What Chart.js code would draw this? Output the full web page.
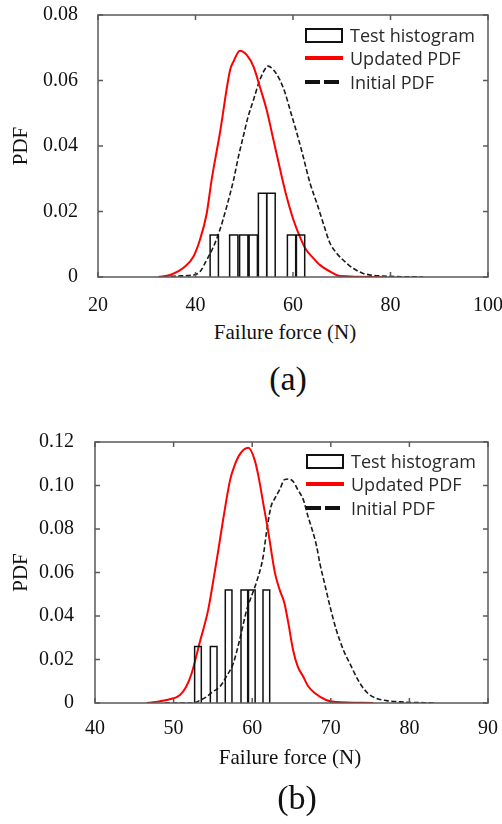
<!DOCTYPE html>
<html>
<head>
<meta charset="utf-8">
<script src="https://cdn.jsdelivr.net/npm/chart.js@4.4.1/dist/chart.umd.min.js"></script>
<style>
  body { margin: 0; background: #fff; }
  #wrap { position: relative; width: 502px; height: 824px; overflow: hidden; }
  canvas { position: absolute; left: 0; }
  .lg { position: absolute; height: 20px; display: flex; align-items: center; font-family: "Open Sans", Lato, sans-serif; font-size: 18px; color: #2a2a2a; white-space: nowrap; }
  .sw { width: 38px; margin-right: 7px; display: flex; align-items: center; }
  .box { box-sizing: border-box; width: 38px; height: 15px; border: 2px solid #111; }
  .red { width: 38px; height: 4px; background: #ff0000; }
  .dash { width: 17px; height: 4px; background: #111; margin-right: 4px; }
  .cap { position: absolute; font-family: "Liberation Serif", "Times New Roman", serif; color: #111; white-space: nowrap; transform: translateX(-50%); }
</style>
</head>
<body>
<div id="wrap">
  <canvas id="chartA" width="502" height="320" style="top:0;width:502px;height:320px"></canvas>
  <canvas id="chartB" width="502" height="340" style="top:410px;width:502px;height:340px"></canvas>

  <div class="lg" style="left:305px;top:25px"><span class="sw"><span class="box"></span></span>Test histogram</div>
  <div class="lg" style="left:305px;top:48px"><span class="sw"><span class="red"></span></span>Updated PDF</div>
  <div class="lg" style="left:305px;top:72px"><span class="sw"><span class="dash"></span><span class="dash"></span></span>Initial PDF</div>
  <div class="cap" style="left:285px;top:320px;font-size:21px;line-height:24px">Failure force (N)</div>
  <div class="cap" style="left:288px;top:359px;font-size:34px;line-height:40px">(a)</div>

  <div class="lg" style="left:306px;top:451px"><span class="sw"><span class="box"></span></span>Test histogram</div>
  <div class="lg" style="left:306px;top:474px"><span class="sw"><span class="red"></span></span>Updated PDF</div>
  <div class="lg" style="left:306px;top:498px"><span class="sw"><span class="dash"></span><span class="dash"></span></span>Initial PDF</div>
  <div class="cap" style="left:290px;top:745px;font-size:21px;line-height:24px">Failure force (N)</div>
  <div class="cap" style="left:297px;top:778px;font-size:34px;line-height:40px">(b)</div>
</div>
<script>
// (a) failure force test set
const histCentersA = [43.85, 47.85, 49.9, 51.85, 53.75, 55.5, 59.7, 61.55];
const histHeightsA = [0.0128, 0.0128, 0.0128, 0.0128, 0.0256, 0.0256, 0.0128, 0.0128];
const histWidthA = 1.7;
const updForceA = [32.4, 34.8, 37.85, 39.56, 40.9, 42.3, 43.3, 45.0, 47.1, 47.8, 49.1, 50.5, 51.9, 53.2, 54.6, 56.0, 57.7, 58.7, 60.1, 61.4, 62.5, 64.2, 65.5, 68.3, 69.6, 78.2];
const updPdfA = [0, 0.0006, 0.0032, 0.0062, 0.0113, 0.0194, 0.0296, 0.0439, 0.0632, 0.0658, 0.0691, 0.0678, 0.0642, 0.0581, 0.051, 0.0418, 0.0306, 0.0245, 0.0174, 0.0123, 0.0088, 0.0057, 0.0037, 0.0011, 0.0003, 0];
const iniForceA = [33.4, 36.1, 39.6, 40.9, 42.3, 43.7, 45.0, 46.4, 47.8, 48.8, 49.8, 50.8, 51.9, 53.2, 54.6, 54.9, 56.0, 57.3, 58.4, 59.4, 60.8, 62.1, 63.5, 64.9, 66.2, 67.6, 69.0, 71.0, 72.4, 74.4, 78.5, 86.7];
const iniPdfA = [0, 0.0003, 0.0006, 0.0016, 0.0052, 0.0093, 0.0144, 0.0215, 0.0296, 0.0367, 0.0429, 0.049, 0.0541, 0.0602, 0.0642, 0.0644, 0.0632, 0.0602, 0.0561, 0.051, 0.0439, 0.0367, 0.0286, 0.0225, 0.0164, 0.0103, 0.0072, 0.0042, 0.0026, 0.0011, 0.0003, 0];
const xTicksA = { min: 20, max: 100, step: 20 };
const yTicksA = { min: 0, max: 0.08, step: 0.02 };

// (b)
const histCentersB = [53.1, 55.1, 57.0, 59.0, 59.95, 61.8];
const histHeightsB = [0.026, 0.026, 0.052, 0.052, 0.052, 0.052];
const histWidthB = 0.85;
const updForceB = [46.6, 49.1, 50.8, 51.6, 52.3, 53.3, 54.4, 55.0, 55.7, 56.3, 57.2, 57.8, 58.4, 59.5, 60.3, 60.8, 61.4, 62.0, 62.9, 63.5, 64.1, 64.6, 65.2, 65.8, 66.5, 67.1, 68.0, 69.4, 70.7, 75.4];
const updPdfB = [0, 0.0014, 0.0037, 0.0075, 0.0137, 0.0275, 0.0428, 0.0551, 0.0705, 0.0843, 0.1027, 0.1096, 0.1142, 0.1173, 0.1119, 0.1042, 0.0919, 0.0797, 0.0597, 0.052, 0.0459, 0.0367, 0.0244, 0.0167, 0.0121, 0.0078, 0.0045, 0.0014, 0.0005, 0];
const iniForceB = [48.9, 52.5, 53.3, 54.2, 55.0, 55.9, 56.7, 57.6, 58.4, 59.3, 59.9, 60.5, 61.4, 61.8, 62.4, 62.9, 63.5, 64.1, 64.6, 65.2, 65.8, 66.5, 67.1, 67.5, 68.2, 68.6, 69.2, 69.9, 70.7, 71.6, 72.4, 73.7, 74.7, 75.8, 77.1, 78.8, 83.4];
const iniPdfB = [0, 0, 0.0011, 0.0029, 0.0052, 0.0075, 0.0121, 0.0183, 0.029, 0.0428, 0.049, 0.0551, 0.0674, 0.0781, 0.0904, 0.0942, 0.0981, 0.1027, 0.103, 0.1019, 0.0981, 0.0935, 0.0858, 0.0812, 0.072, 0.0643, 0.0551, 0.0444, 0.0336, 0.0244, 0.0183, 0.0091, 0.0045, 0.0021, 0.0011, 0.0005, 0];
const xTicksB = { min: 40, max: 90, step: 10 };
const yTicksB = { min: 0, max: 0.12, step: 0.02 };

const serif = "'Liberation Serif', 'Times New Roman', serif";

function pairs(xs, ys){ return xs.map((x,i)=>({x:x, y:ys[i]})); }

// open rectangles for each bin, broken apart with a null point
function histOutline(centers, heights, w){
  const pts = [];
  centers.forEach((c,i)=>{
    const a = c - w/2, b = c + w/2;
    pts.push({x:a,y:0},{x:a,y:heights[i]},{x:b,y:heights[i]},{x:b,y:0},{x:b,y:null});
  });
  return pts;
}

// box around the plot with inward tick marks on all four sides
const framePlugin = {
  id: 'frame',
  afterDatasetsDraw(chart){
    const {ctx, chartArea:a, scales:{x, y}} = chart;
    const tl = 5;
    ctx.save();
    ctx.strokeStyle = '#5a5a5a'; ctx.lineWidth = 1.5;
    ctx.strokeRect(a.left, a.top, a.right-a.left, a.bottom-a.top);
    ctx.beginPath();
    x.ticks.forEach(t=>{ const px = x.getPixelForValue(t.value);
      ctx.moveTo(px, a.bottom); ctx.lineTo(px, a.bottom-tl);
      ctx.moveTo(px, a.top); ctx.lineTo(px, a.top+tl); });
    y.ticks.forEach(t=>{ const py = y.getPixelForValue(t.value);
      ctx.moveTo(a.left, py); ctx.lineTo(a.left+tl, py);
      ctx.moveTo(a.right, py); ctx.lineTo(a.right-tl, py); });
    ctx.stroke();
    ctx.restore();
  }
};

function makeChart(id, d){
  return new Chart(document.getElementById(id), {
    type: 'line',
    data: { datasets: [
      { label: 'Test histogram', data: histOutline(d.hc, d.hh, d.hw), borderColor: '#111', borderWidth: 1.5, tension: 0, spanGaps: false, pointRadius: 0, fill: false },
      { label: 'Updated PDF', data: pairs(d.ux, d.uy), borderColor: '#ff0000', borderWidth: 2, cubicInterpolationMode: 'monotone', pointRadius: 0, fill: false },
      { label: 'Initial PDF', data: pairs(d.ix, d.iy), borderColor: '#1a1a1a', borderWidth: 1.6, borderDash: [5,2.5], cubicInterpolationMode: 'monotone', pointRadius: 0, fill: false }
    ]},
    options: {
      responsive: false, animation: false, events: [],
      layout: { padding: { top: d.padTop, right: 14, left: 0, bottom: 0 } },
      plugins: { legend: { display: false }, tooltip: { enabled: false } },
      scales: {
        x: { type: 'linear', min: d.xt.min, max: d.xt.max,
          grid: { display: false }, border: { display: false },
          ticks: { stepSize: d.xt.step, padding: d.xPad, color: '#111', font: { family: serif, size: 20 }, maxRotation: 0 },
          afterFit(s){ s.height = d.xH; s.paddingLeft = 0; s.paddingRight = 0; } },
        y: { type: 'linear', min: d.yt.min, max: d.yt.max,
          grid: { display: false }, border: { display: false },
          ticks: { stepSize: d.yt.step, padding: d.yPad, color: '#111', font: { family: serif, size: 20 },
            callback: v => v === 0 ? '0' : v.toFixed(2) },
          title: { display: true, text: 'PDF', color: '#111', font: { family: serif, size: 21 }, padding: { top: 9, bottom: 0 } },
          afterFit(s){ s.width = d.yW; s.paddingTop = 0; s.paddingBottom = 0; } }
      }
    },
    plugins: [framePlugin]
  });
}

makeChart('chartA', { hc: histCentersA, hh: histHeightsA, hw: histWidthA, ux: updForceA, uy: updPdfA, ix: iniForceA, iy: iniPdfA,
  xt: xTicksA, yt: yTicksA, padTop: 15, xH: 43, yW: 98, xPad: 9, yPad: 12 });
makeChart('chartB', { hc: histCentersB, hh: histHeightsB, hw: histWidthB, ux: updForceB, uy: updPdfB, ix: iniForceB, iy: iniPdfB,
  xt: xTicksB, yt: yTicksB, padTop: 32, xH: 47, yW: 95, xPad: 6, yPad: 13 });
</script>
</body>
</html>
